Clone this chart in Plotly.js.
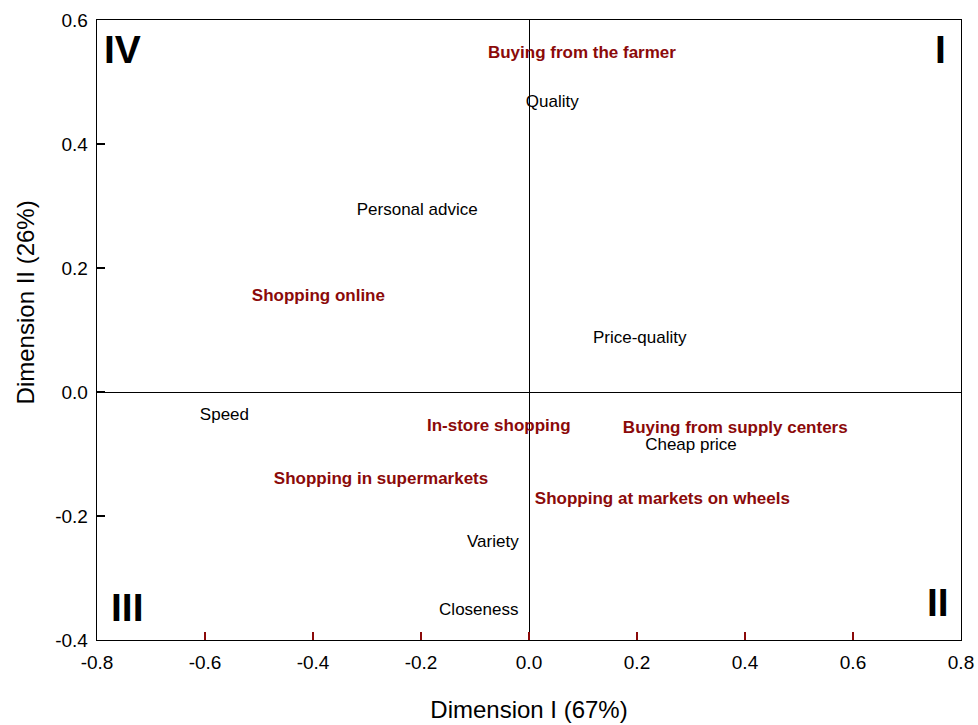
<!DOCTYPE html>
<html>
<head>
<meta charset="utf-8">
<script src="https://cdn.plot.ly/plotly-3.0.1.min.js"></script>
<style>
  html, body { margin: 0; padding: 0; background: #fff; }
  #chart { width: 978px; height: 725px; }
</style>
</head>
<body>
<div id="chart"></div>
<script>
// Purchase attributes (plain labels)
const attrLabels = ["Quality", "Personal advice", "Price-quality", "Speed", "Cheap price", "Variety", "Closeness"];
const attrDim1   = [0.043, -0.207, 0.205, -0.564, 0.300, -0.067, -0.093];
const attrDim2   = [0.466, 0.293, 0.086, -0.038, -0.087, -0.243, -0.353];

// Shopping channels (bold red labels)
const chanLabels = ["Buying from the farmer", "Shopping online", "In-store shopping",
                    "Buying from supply centers", "Shopping in supermarkets", "Shopping at markets on wheels"];
const chanDim1   = [0.098, -0.390, -0.056, 0.382, -0.274, 0.247];
const chanDim2   = [0.546, 0.154, -0.056, -0.060, -0.141, -0.174];

// Axis ticks (hyphen minus signs)
const xTickVals = [-0.8, -0.6, -0.4, -0.2, 0, 0.2, 0.4, 0.6, 0.8];
const xTickText = ["-0.8", "-0.6", "-0.4", "-0.2", "0.0", "0.2", "0.4", "0.6", "0.8"];
const yTickVals = [-0.4, -0.2, 0, 0.2, 0.4, 0.6];
const yTickText = ["-0.4", "-0.2", "0.0", "0.2", "0.4", "0.6"];

// Quadrant names
const quadLabels = ["I", "II", "III", "IV"];

const FONT = "Liberation Sans, Arial, Helvetica, sans-serif";
const RED = "#8b0a0a";

const traces = [
  {
    x: attrDim1, y: attrDim2, text: attrLabels,
    mode: "text", type: "scatter", textposition: "middle center",
    textfont: { family: FONT, size: 17, color: "#000" },
    hoverinfo: "text", showlegend: false
  },
  {
    x: chanDim1, y: chanDim2, text: chanLabels,
    mode: "text", type: "scatter", textposition: "middle center",
    textfont: { family: FONT, size: 17, color: RED, weight: "bold" },
    hoverinfo: "text", showlegend: false
  }
];

const quadPos = {
  "I":   { x: 0.976, y: 0.952 },
  "II":  { x: 0.973, y: 0.061 },
  "III": { x: 0.035, y: 0.053 },
  "IV":  { x: 0.029, y: 0.952 }
};

const annotations = quadLabels.map(q => ({
  text: q, xref: "paper", yref: "paper",
  x: quadPos[q].x, y: quadPos[q].y,
  xanchor: "center", yanchor: "middle", showarrow: false,
  font: { family: FONT, size: 39, color: "#000", weight: "bold" }
}));

// Vertical axis title, placed a little above the plot's middle
annotations.push({
  text: "Dimension II (26%)", xref: "paper", yref: "paper",
  x: -0.083, y: 0.545, textangle: -90,
  xanchor: "center", yanchor: "middle", showarrow: false,
  font: { family: FONT, size: 24, color: "#000" }
});

const layout = {
  width: 978, height: 725,
  margin: { l: 97, r: 17, t: 20, b: 85 },
  paper_bgcolor: "#fff", plot_bgcolor: "#fff",
  font: { family: FONT, color: "#000" },
  xaxis: {
    range: [-0.8, 0.8], tickvals: xTickVals, ticktext: xTickText,
    ticks: "inside", ticklen: 8, tickcolor: RED, tickwidth: 1.3,
    ticklabelstandoff: 5,
    showline: true, linecolor: "#000", linewidth: 1.3, mirror: true,
    showgrid: false, zeroline: true, zerolinecolor: "#000", zerolinewidth: 1,
    tickfont: { family: FONT, size: 19, color: "#000" },
    title: { text: "Dimension I (67%)", font: { family: FONT, size: 24, color: "#000" }, standoff: 29 }
  },
  yaxis: {
    range: [-0.4, 0.6], tickvals: yTickVals, ticktext: yTickText,
    ticks: "inside", ticklen: 8, tickcolor: "#000", tickwidth: 1.3,
    ticklabelstandoff: 4,
    showline: true, linecolor: "#000", linewidth: 1.3, mirror: true,
    showgrid: false, zeroline: true, zerolinecolor: "#000", zerolinewidth: 1,
    tickfont: { family: FONT, size: 19, color: "#000" }
  },
  annotations: annotations
};

Plotly.newPlot("chart", traces, layout, { displayModeBar: false, staticPlot: true });
</script>
</body>
</html>
